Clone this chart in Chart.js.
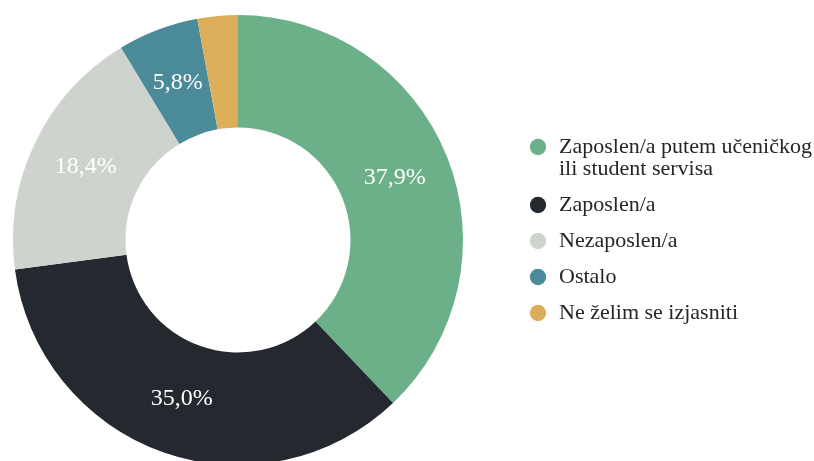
<!DOCTYPE html>
<html>
<head>
<meta charset="utf-8">
<script src="https://cdn.jsdelivr.net/npm/chart.js@4.4.1/dist/chart.umd.min.js"></script>
<style>
  html, body { margin: 0; padding: 0; background: #fff; overflow: hidden; }
  #wrap { position: absolute; left: -38px; top: 0; width: 852px; height: 465px; }
</style>
</head>
<body>
<div id="wrap"><canvas id="myChart"></canvas></div>
<script>
// categories (first one split in two lines, as in the legend)
const categories = [
    ['Zaposlen/a putem učeničkog', 'ili student servisa'],
    'Zaposlen/a',
    'Nezaposlen/a',
    'Ostalo',
    'Ne želim se izjasniti'
];
const shares = [37.9, 35.0, 18.4, 5.8, 2.9];
const colors = ['#6bb089', '#23292e', '#ced3ce', '#4a8a99', '#dcae5a'];

const serif = "'Liberation Serif', 'Times New Roman', serif";

// percentage labels inside slices
const sliceLabels = {
    id: 'sliceLabels',
    afterDatasetsDraw(chart) {
        const ctx = chart.ctx;
        const meta = chart.getDatasetMeta(0);
        ctx.save();
        ctx.font = '24px ' + serif;
        ctx.fillStyle = '#ffffff';
        ctx.textAlign = 'center';
        ctx.textBaseline = 'middle';
        meta.data.forEach((arc, i) => {
            const v = shares[i];
            if (v < 5) return;
            const p = arc.tooltipPosition();
            ctx.fillText(v.toFixed(1).replace('.', ',') + '%', p.x, p.y);
        });
        ctx.restore();
    }
};

const ctx = document.getElementById('myChart');
const myChart = new Chart(ctx, {
    type: 'doughnut',
    data: {
        labels: categories,
        datasets: [{
            data: shares,
            backgroundColor: colors,
            borderWidth: 0
        }]
    },
    options: {
        responsive: true,
        maintainAspectRatio: false,
        animation: false,
        cutout: '50%',
        layout: {
            padding: { left: 0, right: 0, top: 15, bottom: 0 }
        },
        plugins: {
            tooltip: { enabled: false },
            legend: {
                position: 'right',
                align: 'start',
                maxWidth: 300,
                title: {
                    display: true,
                    text: '',
                    font: { size: 12 },
                    padding: { top: 92.6, bottom: 0 }
                },
                labels: {
                    usePointStyle: true,
                    pointStyle: 'circle',
                    boxWidth: 20,
                    boxHeight: 11.5,
                    padding: 14,
                    color: '#262626',
                    font: { family: serif, size: 22, lineHeight: '22px' }
                }
            }
        }
    },
    plugins: [sliceLabels]
});
</script>
</body>
</html>
